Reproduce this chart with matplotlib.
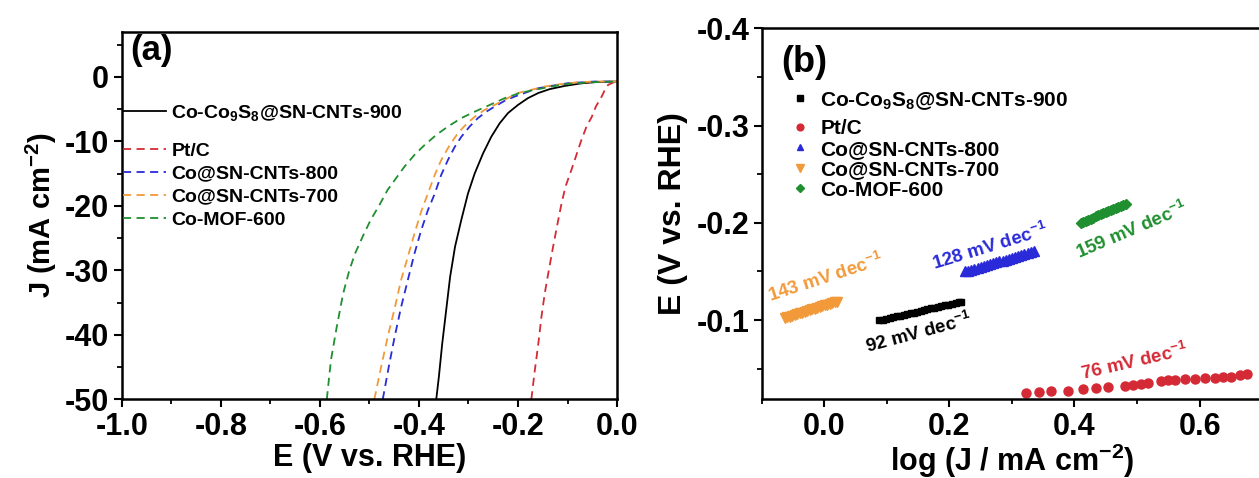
import matplotlib
matplotlib.use("Agg")
import matplotlib.pyplot as plt
from matplotlib.ticker import MultipleLocator

plt.rcParams['font.family'] = ['Liberation Sans', 'DejaVu Sans']
plt.rcParams['font.weight'] = 'bold'
plt.rcParams['axes.labelweight'] = 'bold'
plt.rcParams['axes.unicode_minus'] = False
plt.rcParams['mathtext.fontset'] = 'custom'
plt.rcParams['mathtext.rm'] = 'Liberation Sans:bold'
plt.rcParams['mathtext.it'] = 'Liberation Sans:bold'
plt.rcParams['mathtext.bf'] = 'Liberation Sans:bold'
plt.rcParams['mathtext.default'] = 'rm'

# ---- panel (a): LSV polarisation curves (E in V vs RHE, J in mA cm-2)
E_900 = [-0.365, -0.3597, -0.353, -0.345, -0.337, -0.327, -0.3145, -0.301, -0.2875, -0.2707, -0.254,
         -0.237, -0.220, -0.200, -0.180, -0.159, -0.136, -0.1055, -0.072, -0.038, 0.0]
J_900 = [-50, -46.5, -41.4, -36.2, -31.0, -26.3, -22.2, -18.1, -15.0, -11.9, -9.3,
         -7.2, -5.6, -4.35, -3.3, -2.5, -1.9, -1.4, -1.0, -0.78, -0.72]

E_ptc = [-0.173, -0.166, -0.159, -0.1526, -0.146, -0.1378, -0.129, -0.120, -0.112, -0.104, -0.092,
         -0.082, -0.072, -0.0616, -0.051, -0.0427, -0.031, -0.0245, -0.018, 0.0]
J_ptc = [-50, -45.5, -41.4, -37.2, -33.6, -30.0, -26.3, -22.7, -19.6, -17.0, -14.4,
         -12.1, -9.8, -7.7, -6.2, -4.6, -3.05, -2.0, -1.24, -0.6]

E_800 = [-0.473, -0.461, -0.449, -0.436, -0.4224, -0.409, -0.3955, -0.382, -0.368, -0.355, -0.3415,
         -0.328, -0.3145, -0.2976, -0.281, -0.264, -0.247, -0.2268, -0.2066, -0.183, -0.159, -0.129,
         -0.099, -0.045, 0.0]
J_800 = [-50, -45, -40.3, -35.7, -31.5, -27.4, -23.8, -20.7, -18.1, -15.2, -12.9,
         -10.9, -9.3, -7.7, -6.4, -5.4, -4.6, -3.7, -3.05, -2.4, -1.76, -1.35,
         -0.98, -0.72, -0.72]

E_700 = [-0.490, -0.4764, -0.463, -0.449, -0.436, -0.4224, -0.409, -0.3955, -0.382, -0.368, -0.355,
         -0.338, -0.321, -0.304, -0.2875, -0.267, -0.247, -0.2234, -0.200, -0.173, -0.146, -0.1155,
         -0.085, -0.045, 0.0]
J_700 = [-50, -45, -40.3, -35.9, -31.5, -27.9, -24.3, -20.9, -18.1, -15.2, -12.9,
         -10.6, -8.7, -7.3, -6.2, -5.1, -4.35, -3.4, -2.5, -2.0, -1.5, -1.14,
         -0.88, -0.72, -0.72]

E_600 = [-0.586, -0.5776, -0.566, -0.553, -0.5405, -0.529, -0.512, -0.4975, -0.480, -0.463, -0.446,
         -0.429, -0.409, -0.389, -0.365, -0.3415, -0.3145, -0.2875, -0.257, -0.2268, -0.1965, -0.166,
         -0.1324, -0.099, -0.0515, 0.0]
J_600 = [-50, -43.9, -38.8, -33.6, -30.0, -27.4, -24.5, -22.2, -19.9, -17.5, -15.7,
         -13.9, -12.1, -10.6, -9.0, -7.7, -6.4, -5.4, -4.35, -3.3, -2.5, -2.0,
         -1.5, -1.09, -0.83, -0.72]

# ---- panel (b): Tafel plots (log J, E)
tx_900 = [0.088, 0.094, 0.099, 0.105, 0.110, 0.116, 0.121, 0.127, 0.132, 0.138, 0.143, 0.149, 0.154,
          0.160, 0.165, 0.171, 0.176, 0.182, 0.187, 0.193, 0.198, 0.204, 0.210, 0.215, 0.219]
ty_900 = [-0.0995, -0.1004, -0.1011, -0.1020, -0.1028, -0.1037, -0.1044, -0.1053, -0.1061, -0.1070,
          -0.1077, -0.1086, -0.1093, -0.1102, -0.1110, -0.1119, -0.1126, -0.1135, -0.1143, -0.1151,
          -0.1159, -0.1168, -0.1177, -0.1184, -0.1190]

tx_ptc = [0.323, 0.344, 0.363, 0.389, 0.413, 0.435, 0.454, 0.480, 0.493, 0.507, 0.517, 0.539, 0.549,
          0.560, 0.576, 0.592, 0.608, 0.624, 0.637, 0.651, 0.664, 0.675]
ty_ptc = [-0.0246, -0.0263, -0.0270, -0.0273, -0.0287, -0.0297, -0.0308, -0.0321, -0.0331, -0.0338,
          -0.0349, -0.0372, -0.0383, -0.0383, -0.0390, -0.0396, -0.0400, -0.0407, -0.0414, -0.0417,
          -0.0434, -0.0444]

tx_800 = [0.225, 0.230, 0.235, 0.240, 0.245, 0.250, 0.255, 0.260, 0.265, 0.270, 0.275, 0.280, 0.285,
          0.290, 0.295, 0.300, 0.305, 0.310, 0.315, 0.320, 0.325, 0.330, 0.335]
ty_800 = [-0.1500, -0.1509, -0.1519, -0.1528, -0.1537, -0.1547, -0.1556, -0.1565, -0.1575, -0.1584,
          -0.1593, -0.1603, -0.1612, -0.1621, -0.1631, -0.1640, -0.1649, -0.1659, -0.1668, -0.1677,
          -0.1686, -0.1696, -0.1705]

tx_700 = [-0.063, -0.059, -0.055, -0.051, -0.047, -0.043, -0.039, -0.035, -0.031, -0.027, -0.023,
          -0.019, -0.015, -0.011, -0.007, -0.003, 0.001, 0.005, 0.009, 0.013, 0.017, 0.020]
ty_700 = [-0.1020, -0.1028, -0.1036, -0.1044, -0.1053, -0.1061, -0.1069, -0.1077, -0.1085, -0.1093,
          -0.1102, -0.1110, -0.1118, -0.1126, -0.1134, -0.1143, -0.1151, -0.1159, -0.1167, -0.1175,
          -0.1183, -0.1190]

tx_600 = [0.410, 0.414, 0.418, 0.422, 0.426, 0.430, 0.434, 0.438, 0.442, 0.446, 0.450, 0.454, 0.458,
          0.462, 0.466, 0.470, 0.474, 0.478, 0.482]
ty_600 = [-0.2000, -0.2011, -0.2022, -0.2032, -0.2043, -0.2054, -0.2065, -0.2076, -0.2086, -0.2097,
          -0.2108, -0.2119, -0.2130, -0.2140, -0.2151, -0.2162, -0.2173, -0.2184, -0.2194]

labels = ['Co-Co$_9$S$_8$@SN-CNTs-900', 'Pt/C', 'Co@SN-CNTs-800', 'Co@SN-CNTs-700', 'Co-MOF-600']
colors = ['black', '#d42a35', '#2a2ad8', '#f29a3a', '#1f8f2f']
slopes = ['92 mV dec$^{-1}$', '76 mV dec$^{-1}$', '128 mV dec$^{-1}$', '143 mV dec$^{-1}$', '159 mV dec$^{-1}$']
# where each slope label sits (log J, E) and its tilt
slope_pos = [(0.151, -0.0863), (0.496, -0.0568), (0.2645, -0.175), (0.002, -0.143), (0.492, -0.1926)]
slope_rot = [15, 13, 17, 18, 23]

fig = plt.figure(figsize=(12.59, 4.78), dpi=100)
ax1 = fig.add_axes([0.0967, 0.1646, 0.3934, 0.769])
ax2 = fig.add_axes([0.605, 0.1646, 0.3975, 0.776])

def style(ax):
    for s in ax.spines.values():
        s.set_linewidth(1.8)
    ax.tick_params(which='major', direction='out', length=6, width=1.5, labelsize=22, pad=3)
    ax.tick_params(which='minor', direction='out', length=3.5, width=1.3)
    ax.tick_params(top=False, right=False)

def split_legend(ax, fs, x, y1, y2, spacing, **kw):
    # first entry has subscripts and sits apart from the other four
    h, l = ax.get_legend_handles_labels()
    common = dict(loc='center left', frameon=False, fontsize=fs, borderpad=0, borderaxespad=0, **kw)
    leg1 = ax.legend(h[:1], l[:1], bbox_to_anchor=(x, y1), **common)
    ax.add_artist(leg1)
    ax.legend(h[1:], l[1:], bbox_to_anchor=(x, y2), labelspacing=spacing, **common)

# (a)
curves = [(E_900, J_900), (E_ptc, J_ptc), (E_800, J_800), (E_700, J_700), (E_600, J_600)]
for i, (e, j) in enumerate(curves):
    if i == 0:
        ax1.plot(e, j, color=colors[i], lw=1.3, label=labels[i])
    else:
        ax1.plot(e, j, color=colors[i], lw=1.3, ls='--', dashes=(4.5, 3), label=labels[i])
ax1.set_xlim(-1.0, 0.0)
ax1.set_ylim(-50, 7)
ax1.xaxis.set_major_locator(MultipleLocator(0.2))
ax1.xaxis.set_minor_locator(MultipleLocator(0.1))
ax1.yaxis.set_major_locator(MultipleLocator(10))
ax1.yaxis.set_minor_locator(MultipleLocator(5))
style(ax1)
ax1.set_xlabel('E (V vs. RHE)', fontsize=22, labelpad=1)
ax1.set_ylabel('J (mA cm$^{-2}$)', fontsize=21, labelpad=4)
ax1.text(0.017, 0.995, '(a)', transform=ax1.transAxes, fontsize=25, ha='left', va='top')
split_legend(ax1, 14, 0.003, 0.779, 0.582, 0.28, handlelength=2.2, handletextpad=0.27)

# (b)
tafel = [(tx_900, ty_900, 's', 5), (tx_ptc, ty_ptc, 'o', 6.5), (tx_800, ty_800, '^', 6.5),
         (tx_700, ty_700, 'v', 7.5), (tx_600, ty_600, 'D', 5.5)]
for i, (x, y, m, ms) in enumerate(tafel):
    ax2.plot(x, y, ls='none', marker=m, ms=ms, color=colors[i], mec=colors[i], label=labels[i])
    ax2.text(slope_pos[i][0], slope_pos[i][1], slopes[i], color=colors[i], fontsize=13.5,
             rotation=slope_rot[i], rotation_mode='anchor', ha='center', va='center')
ax2.set_xlim(-0.1, 0.7)
ax2.set_ylim(-0.0184, -0.4)
ax2.xaxis.set_major_locator(MultipleLocator(0.2))
ax2.xaxis.set_minor_locator(MultipleLocator(0.1))
ax2.yaxis.set_major_locator(MultipleLocator(0.1))
ax2.yaxis.set_minor_locator(MultipleLocator(0.05))
style(ax2)
ax2.set_xlabel('log (J / mA cm$^{-2}$)', fontsize=22, labelpad=0)
ax2.set_ylabel('E (V vs. RHE)', fontsize=23, labelpad=6)
ax2.text(0.04, 0.955, '(b)', transform=ax2.transAxes, fontsize=26, ha='left', va='top')
split_legend(ax2, 15, 0.055, 0.805, 0.647, 0.07, handlelength=1.0, handletextpad=0.5, markerscale=0.75)

fig.savefig('out.png', dpi=100)
